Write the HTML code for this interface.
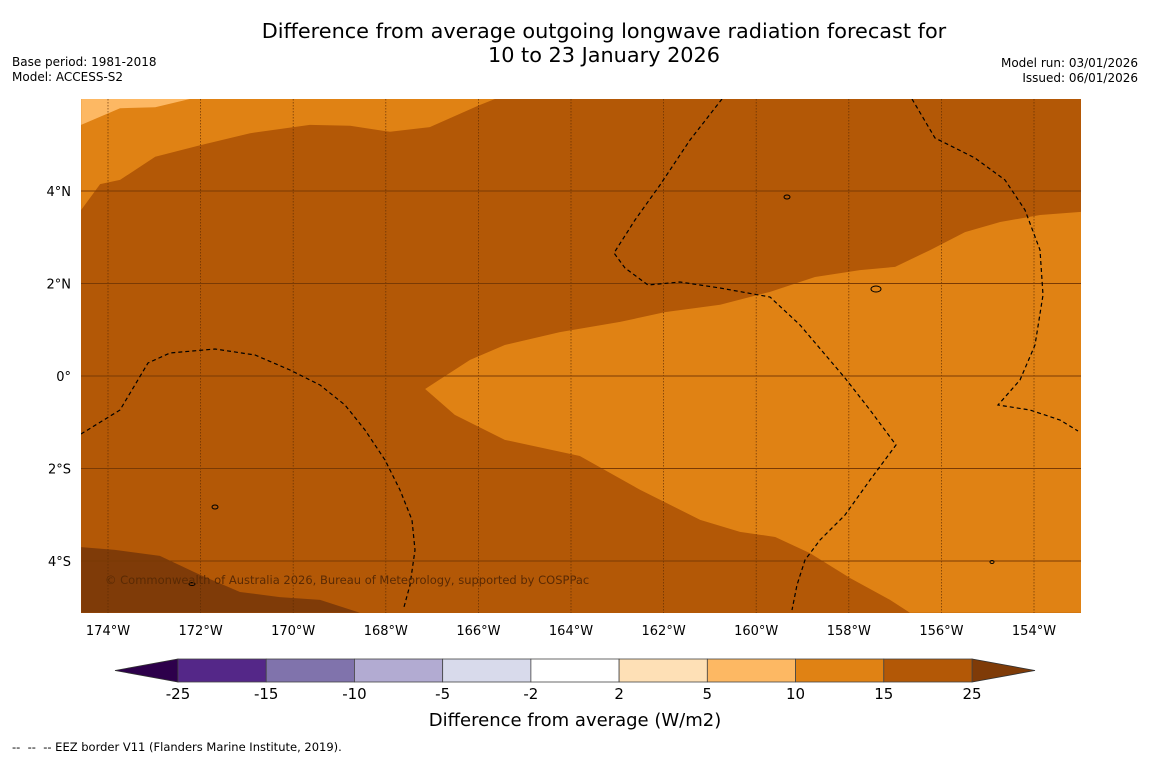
<!DOCTYPE html>
<html><head><meta charset="utf-8">
<style>
body{margin:0;background:#fff;width:1150px;height:758px;overflow:hidden;font-family:"DejaVu Sans","Liberation Sans",sans-serif;}
svg{display:block}
</style></head><body>
<svg id="chart" width="1150" height="758" xmlns="http://www.w3.org/2000/svg">
<text x="604" y="38" font-size="20.8" text-anchor="middle" fill="#000">Difference from average outgoing longwave radiation forecast for</text>
<text x="604" y="62" font-size="20.8" text-anchor="middle" fill="#000">10 to 23 January 2026</text>
<text x="12" y="66" font-size="12" fill="#000">Base period: 1981-2018</text>
<text x="12" y="81" font-size="12" fill="#000">Model: ACCESS-S2</text>
<text x="1138" y="67" font-size="12" text-anchor="end" fill="#000">Model run: 03/01/2026</text>
<text x="1138" y="82" font-size="12" text-anchor="end" fill="#000">Issued: 06/01/2026</text>
<g id="map"></g>
<g id="axes"></g>
<g id="cbar"></g>
<text x="575" y="726" font-size="18" text-anchor="middle" fill="#000">Difference from average (W/m2)</text>
<text x="12" y="751" font-size="11.5" fill="#000" xml:space="preserve">--  --  -- EEZ border V11 (Flanders Marine Institute, 2019).</text>
</svg>
<script>
const lonTicks=[-174,-172,-170,-168,-166,-164,-162,-160,-158,-156,-154];
const lonLabels=["174°W","172°W","170°W","168°W","166°W","164°W","162°W","160°W","158°W","156°W","154°W"];
const latTicks=[4,2,0,-2,-4];
const latLabels=["4°N","2°N","0°","2°S","4°S"];
const levels=[-25,-15,-10,-5,-2,2,5,10,15,25];
const levelColors=["#542788","#8073ac","#b2abd2","#d8daeb","#ffffff","#fee0b6","#fdb863","#e08214","#b35806"];
const underColor="#2d004b", overColor="#7f3b08";
const baseColor="#b35806";
const contour510=[[-174.58,5.99],[-172.23,5.99],[-172.98,5.81],[-173.74,5.79],[-174.58,5.43]];
const contour1015North=[[-174.58,5.99],[-165.64,5.99],[-165.97,5.86],[-167.05,5.38],[-167.91,5.28],[-168.77,5.41],[-169.64,5.43],[-170.93,5.25],[-172.01,4.99],[-172.98,4.74],[-173.74,4.24],[-174.17,4.15],[-174.58,3.59]];
const contour1015East=[[-152.98,3.55],[-153.87,3.48],[-154.73,3.33],[-155.49,3.11],[-156.25,2.72],[-157.0,2.36],[-157.76,2.29],[-158.73,2.14],[-159.70,1.82],[-160.78,1.54],[-161.97,1.38],[-162.94,1.17],[-164.24,0.95],[-165.43,0.67],[-166.18,0.35],[-167.15,-0.28],[-166.51,-0.84],[-165.43,-1.38],[-163.81,-1.73],[-162.51,-2.46],[-161.21,-3.11],[-160.35,-3.37],[-159.59,-3.48],[-158.84,-3.83],[-157.97,-4.37],[-157.11,-4.84],[-156.68,-5.12],[-152.98,-5.12]];
const contourOver25=[[-174.58,-3.70],[-173.85,-3.76],[-172.88,-3.89],[-172.01,-4.30],[-171.15,-4.67],[-170.29,-4.78],[-169.42,-4.84],[-168.56,-5.12],[-174.58,-5.12]];

const NS="http://www.w3.org/2000/svg";
const X0=81,X1=1081,Y0=99,Y1=613;
function xs(lon){return 108+(lon+174)*46.3;}
function ys(lat){return 376-lat*46.25;}
function mk(tag,attrs,parent){const e=document.createElementNS(NS,tag);for(const k in attrs)e.setAttribute(k,attrs[k]);parent.appendChild(e);return e;}
const map=document.getElementById('map'),axes=document.getElementById('axes'),cb=document.getElementById('cbar');
const clip=mk('clipPath',{id:'mc'},map);mk('rect',{x:X0,y:Y0,width:X1-X0,height:Y1-Y0},clip);
const g=mk('g',{'clip-path':'url(#mc)'},map);
const bg=mk('rect',{x:X0,y:Y0,width:X1-X0,height:Y1-Y0,fill:baseColor},g);


function poly(pts,fill,name){const p=mk('polygon',{points:pts.map(q=>xs(q[0])+','+ys(q[1])).join(' '),fill:fill},g);

}
poly(contour1015North,"#e08214",'contour-10-15-north');
poly(contour510,"#fdb863",'contour-5-10-corner');
poly(contour1015East,"#e08214",'contour-10-15-east');
poly(contourOver25,overColor,'contour-over-25');
lonTicks.forEach((v,i)=>{const l=mk('line',{x1:xs(v),x2:xs(v),y1:Y0,y2:Y1,stroke:'#5a2a04','stroke-width':0.8,'stroke-dasharray':'1.5,1.5',opacity:0.8},g);


const t=mk('text',{x:xs(v),y:635,'font-size':13,'text-anchor':'middle',fill:'#000'},axes);t.textContent=lonLabels[i];

});
latTicks.forEach((v,i)=>{const l=mk('line',{x1:X0,x2:X1,y1:ys(v),y2:ys(v),stroke:'#7a3a04','stroke-width':1},g);


const t=mk('text',{x:71,y:ys(v)+5,'font-size':13,'text-anchor':'end',fill:'#000'},axes);t.textContent=latLabels[i];

});
const eez=["M81,434 L120,410 L148,363 L170,353 L215,349 L255,355 L290,370 L320,385 L345,405 L365,430 L385,460 L400,490 L412,520 L415,550 L410,585 L404,607",
"M722,99 L690,140 L660,185 L635,220 L614,253 L625,268 L648,285 L680,282 L720,288 L770,297 L800,325 L845,378 L870,410 L896,445 L870,480 L845,515 L820,540 L805,560 L797,585 L792,610",
"M912,99 L935,138 L975,158 L1005,180 L1025,210 L1040,250 L1043,295 L1035,345 L1020,380 L998,405 L1030,410 L1060,420 L1078,431"];
eez.forEach(d=>{const p=mk('path',{d:d,fill:'none',stroke:'#000','stroke-width':1.2,'stroke-dasharray':'4,3'},g);

});
[[787,197,3,2],[876,289,5,3],[215,507,3,2],[992,562,2,1.5],[192,584,3,1.5]].forEach(e=>{const c=mk('ellipse',{cx:e[0],cy:e[1],rx:e[2],ry:e[3],fill:'none',stroke:'#000','stroke-width':1},g);

});
const wm=mk('text',{x:105,y:584,'font-size':11.5,fill:'#5a2a04'},g);wm.textContent='© Commonwealth of Australia 2026, Bureau of Meteorology, supported by COSPPac';


const CB0=178,CB1=972,CBY=659,CBH=23;
const segW=(CB1-CB0)/levelColors.length;
function cx(i){return CB0+i*segW;}
const under=mk('polygon',{points:`${CB0},${CBY} ${CB0},${CBY+CBH} 115,${CBY+CBH/2}`,fill:underColor,stroke:'#333','stroke-width':0.8},cb);


const over=mk('polygon',{points:`${CB1},${CBY} ${CB1},${CBY+CBH} 1035,${CBY+CBH/2}`,fill:overColor,stroke:'#333','stroke-width':0.8},cb);


levelColors.forEach((c,i)=>{const r=mk('rect',{x:cx(i),y:CBY,width:segW,height:CBH,fill:c,stroke:'#444','stroke-width':0.8},cb);

});
levels.forEach((v,i)=>{const t=mk('text',{x:cx(i),y:699,'font-size':15,'text-anchor':'middle',fill:'#000'},cb);t.textContent=v;

});
</script>
</body></html>
